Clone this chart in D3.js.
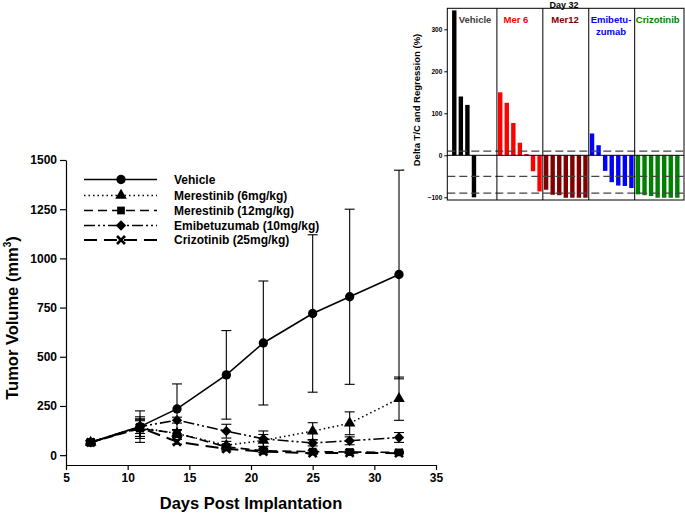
<!DOCTYPE html>
<html>
<head>
<meta charset="utf-8">
<script src="https://cdn.jsdelivr.net/npm/d3@7"></script>
<style>
  html, body { margin: 0; padding: 0; background: #fff; }
  svg { display: block; }
  text { font-family: "Liberation Sans", Arial, sans-serif; }
</style>
</head>
<body>
<svg id="chart" width="685" height="514"></svg>
<script>
// ---------------- Main chart data ----------------
const days = [7, 11, 14, 18, 21, 25, 28, 32];
const seriesNames = ["Vehicle", "Merestinib (6mg/kg)", "Merestinib (12mg/kg)", "Emibetuzumab (10mg/kg)", "Crizotinib (25mg/kg)"];
const vehicleMean = [65, 145, 235, 408, 570, 720, 805, 918];
const vehicleErr  = [8, 80, 127, 225, 315, 400, 445, 530];
const mer6Mean    = [65, 140, 110, 50, 75, 122, 162, 287];
const mer6Err     = [8, 45, 20, 20, 30, 43, 58, 110];
const mer12Mean   = [65, 135, 112, 42, 22, 18, 16, 14];
const mer12Err    = [8, 40, 15, 12, 8, 6, 5, 5];
const emibMean    = [65, 145, 178, 122, 83, 62, 73, 90];
const emibErr     = [8, 35, 15, 35, 40, 15, 20, 25];
const crizMean    = [65, 140, 68, 32, 18, 10, 12, 10];
const crizErr     = [8, 55, 12, 10, 6, 5, 4, 4];
const xTicks = [5, 10, 15, 20, 25, 30, 35];
const yTicks = [0, 250, 500, 750, 1000, 1250, 1500];

// ---------------- Inset chart data ----------------
const insetTitle = "Day 32";
const insetGroups = ["Vehicle", "Mer 6", "Mer12", "Emibetu-|zumab", "Crizotinib"];
const vehicleTC = [345, 140, 120, -100];
const mer6TC    = [150, 125, 77, 30, 3, -38, -86];
const mer12TC   = [-82, -94, -95, -101, -101, -101, -101];
const emibTC    = [52, 24, -37, -64, -72, -73, -78];
const crizTC    = [-93, -95, -97, -101, -101, -101, -101];
const insetTicks = [-100, 0, 100, 200, 300];
const thresholds = [10, -50, -90];

// ---------------- Setup ----------------
const svg = d3.select("#chart");
const FONT = "'Liberation Sans', Arial, sans-serif";

const x = d3.scaleLinear().domain([5, 35]).range([66, 436]);
const y = d3.scaleLinear().domain([-50, 1500]).range([465, 160]);

// axes
const xAxis = svg.append("g").attr("transform", "translate(0,465)")
  .call(d3.axisBottom(x).tickValues(xTicks).tickFormat(d3.format("d")).tickSize(5).tickSizeOuter(0).tickPadding(3));
const yAxis = svg.append("g").attr("transform", "translate(66,0)")
  .call(d3.axisLeft(y).tickValues(yTicks).tickFormat(d3.format("d")).tickSize(6).tickSizeOuter(0).tickPadding(3));
[xAxis, yAxis].forEach(a => {
  a.selectAll("path, line").attr("stroke", "#000").attr("stroke-width", 1.2);
  a.selectAll("text").attr("font-family", FONT).attr("font-size", 12).attr("font-weight", "bold").attr("fill", "#000");
});

// axis titles
svg.append("text").attr("x", 251).attr("y", 509).attr("text-anchor", "middle")
  .attr("font-size", 16.5).attr("font-weight", "bold").text("Days Post Implantation");
const yt = svg.append("text").attr("transform", "translate(18,318) rotate(-90)")
  .attr("text-anchor", "middle").attr("font-size", 16.5).attr("font-weight", "bold");
yt.append("tspan").text("Tumor Volume (mm");
yt.append("tspan").attr("dy", -7).attr("font-size", 10).text("3");
yt.append("tspan").attr("dy", 7).text(")");

// series definition
const series = [
  { name: seriesNames[4], mean: crizMean, err: crizErr, dash: "13,7", width: 2, sym: "x" },
  { name: seriesNames[3], mean: emibMean, err: emibErr, dash: "11,3,2,3,2,3", width: 1.6, sym: "diamond" },
  { name: seriesNames[2], mean: mer12Mean, err: mer12Err, dash: "9,5", width: 1.6, sym: "square" },
  { name: seriesNames[1], mean: mer6Mean, err: mer6Err, dash: "1.5,3", width: 1.6, sym: "triangle" },
  { name: seriesNames[0], mean: vehicleMean, err: vehicleErr, dash: null, width: 1.6, sym: "circle" }
];

function drawSymbol(g, type, cx, cy, scale) {
  scale = scale || 1;
  if (type === "x") {
    const s = 4 * scale;
    g.append("path").attr("d", `M${cx - s},${cy - s}L${cx + s},${cy + s}M${cx - s},${cy + s}L${cx + s},${cy - s}`)
      .attr("stroke", "#000").attr("stroke-width", 2.6).attr("fill", "none");
    return;
  }
  if (type === "diamond") {
    const s = 5.2 * scale;
    g.append("path").attr("d", `M${cx},${cy - s}L${cx + s},${cy}L${cx},${cy + s}L${cx - s},${cy}Z`).attr("fill", "#000");
    return;
  }
  const map = { circle: [d3.symbolCircle, 68], triangle: [d3.symbolTriangle, 58], square: [d3.symbolSquare, 60] };
  const [sym, size] = map[type];
  g.append("path").attr("d", d3.symbol().type(sym).size(size * scale * scale)())
    .attr("transform", `translate(${cx},${cy})`).attr("fill", "#000");
}

const line = d3.line().x(d => x(d[0])).y(d => y(d[1]));
const plot = svg.append("g");

series.forEach(s => {
  const g = plot.append("g");
  const pts = days.map((d, i) => [d, s.mean[i], s.err[i]]);
  // error bars
  pts.forEach(p => {
    const cx = x(p[0]), y1 = y(p[1] + p[2]), y0 = y(p[1] - p[2]);
    g.append("line").attr("x1", cx).attr("x2", cx).attr("y1", y1).attr("y2", y0).attr("stroke", "#000").attr("stroke-width", 1.1);
    [y1, y0].forEach(yy => g.append("line").attr("x1", cx - 5).attr("x2", cx + 5).attr("y1", yy).attr("y2", yy).attr("stroke", "#000").attr("stroke-width", 1.1));
  });
  g.append("path").datum(pts).attr("d", line).attr("fill", "none").attr("stroke", "#000")
    .attr("stroke-width", s.width).attr("stroke-dasharray", s.dash);
  pts.forEach(p => drawSymbol(g, s.sym, x(p[0]), y(p[1])));
});

// legend
const legendOrder = [series[4], series[3], series[2], series[1], series[0]];
const legendY = [179.5, 195.5, 210.5, 225.5, 240];
legendOrder.forEach((s, i) => {
  const g = svg.append("g");
  const ly = legendY[i];
  g.append("line").attr("x1", 84).attr("x2", 157).attr("y1", ly).attr("y2", ly)
    .attr("stroke", "#000").attr("stroke-width", s.width).attr("stroke-dasharray", s.dash);
  drawSymbol(g, s.sym, 121, ly, 1);
  g.append("text").attr("x", 174).attr("y", ly + 4.3).attr("font-size", 12).attr("font-weight", "bold").text(s.name);
});

// ---------------- Inset ----------------
const ix0 = 447.3, ix1 = 684, iy0 = 8.3, iy1 = 200;
const iy = d3.scaleLinear().domain([-106.4, 350]).range([iy1, iy0]);
const nSlots = 7;
const slotIdx = d3.range(insetGroups.length * nSlots);
const ixb = d3.scaleBand().domain(slotIdx).range([451.0, 680.6]).paddingInner(0.33).paddingOuter(0.165);
const groupData = [vehicleTC, mer6TC, mer12TC, emibTC, crizTC];
const groupColors = ["#000000", "#ff0000", "#800000", "#0000ff", "#008000"];
const labelColors = ["#404040", "#ff0000", "#800000", "#0000ff", "#008000"];

const inset = svg.append("g");
// bars
groupData.forEach((vals, gi) => {
  vals.forEach((v, j) => {
    const idx = gi * nSlots + j;
    const vv = Math.max(Math.min(v, 350), -106);
    inset.append("rect")
      .attr("x", ixb(idx)).attr("width", ixb.bandwidth())
      .attr("y", iy(Math.max(0, vv))).attr("height", Math.abs(iy(vv) - iy(0)))
      .attr("fill", groupColors[gi]);
  });
});
// threshold dashed lines
thresholds.forEach(t => {
  inset.append("line").attr("x1", ix0).attr("x2", ix1).attr("y1", iy(t)).attr("y2", iy(t))
    .attr("stroke", "#444").attr("stroke-width", 1.2).attr("stroke-dasharray", "8,4");
});
// zero line
inset.append("line").attr("x1", ix0).attr("x2", ix1).attr("y1", iy(0)).attr("y2", iy(0)).attr("stroke", "#000").attr("stroke-width", 1);
// separators
for (let gi = 1; gi < insetGroups.length; gi++) {
  const sx = (ixb(gi * nSlots - 1) + ixb.bandwidth() + ixb(gi * nSlots)) / 2;
  inset.append("line").attr("x1", sx).attr("x2", sx).attr("y1", iy0).attr("y2", iy1).attr("stroke", "#000").attr("stroke-width", 1);
}
// frame
inset.append("rect").attr("x", ix0).attr("y", iy0).attr("width", ix1 - ix0).attr("height", iy1 - iy0)
  .attr("fill", "none").attr("stroke", "#000").attr("stroke-width", 1);
// y axis ticks
const iax = inset.append("g").attr("transform", `translate(${ix0},0)`)
  .call(d3.axisLeft(iy).tickValues(insetTicks).tickSize(3).tickSizeOuter(0).tickPadding(2));
iax.select(".domain").remove();
iax.selectAll("line").attr("stroke", "#000");
iax.selectAll("text").attr("font-family", FONT).attr("font-size", 6.5).attr("font-weight", "bold").attr("fill", "#000");
// title
inset.append("text").attr("x", 564).attr("y", 7.6).attr("text-anchor", "middle")
  .attr("font-size", 9).attr("font-weight", "bold").text(insetTitle);
// y title
inset.append("text").attr("transform", "translate(420,100) rotate(-90)").attr("text-anchor", "middle")
  .attr("font-size", 9.5).attr("font-weight", "bold").text("Delta T/C and Regression (%)");
// small stray mark at left
inset.append("line").attr("x1", 401).attr("x2", 404.5).attr("y1", 170).attr("y2", 170).attr("stroke", "#555").attr("stroke-width", 1);
// group labels
const labelCenters = [475, 516, 565, 611, 657.7];
insetGroups.forEach((lab, gi) => {
  const parts = lab.split("|");
  parts.forEach((p, k) => {
    inset.append("text").attr("x", labelCenters[gi]).attr("y", 23 + k * 11.5)
      .attr("text-anchor", "middle").attr("font-size", 9.5).attr("font-weight", "bold")
      .attr("fill", labelColors[gi]).text(p);
  });
});
</script>
</body>
</html>
